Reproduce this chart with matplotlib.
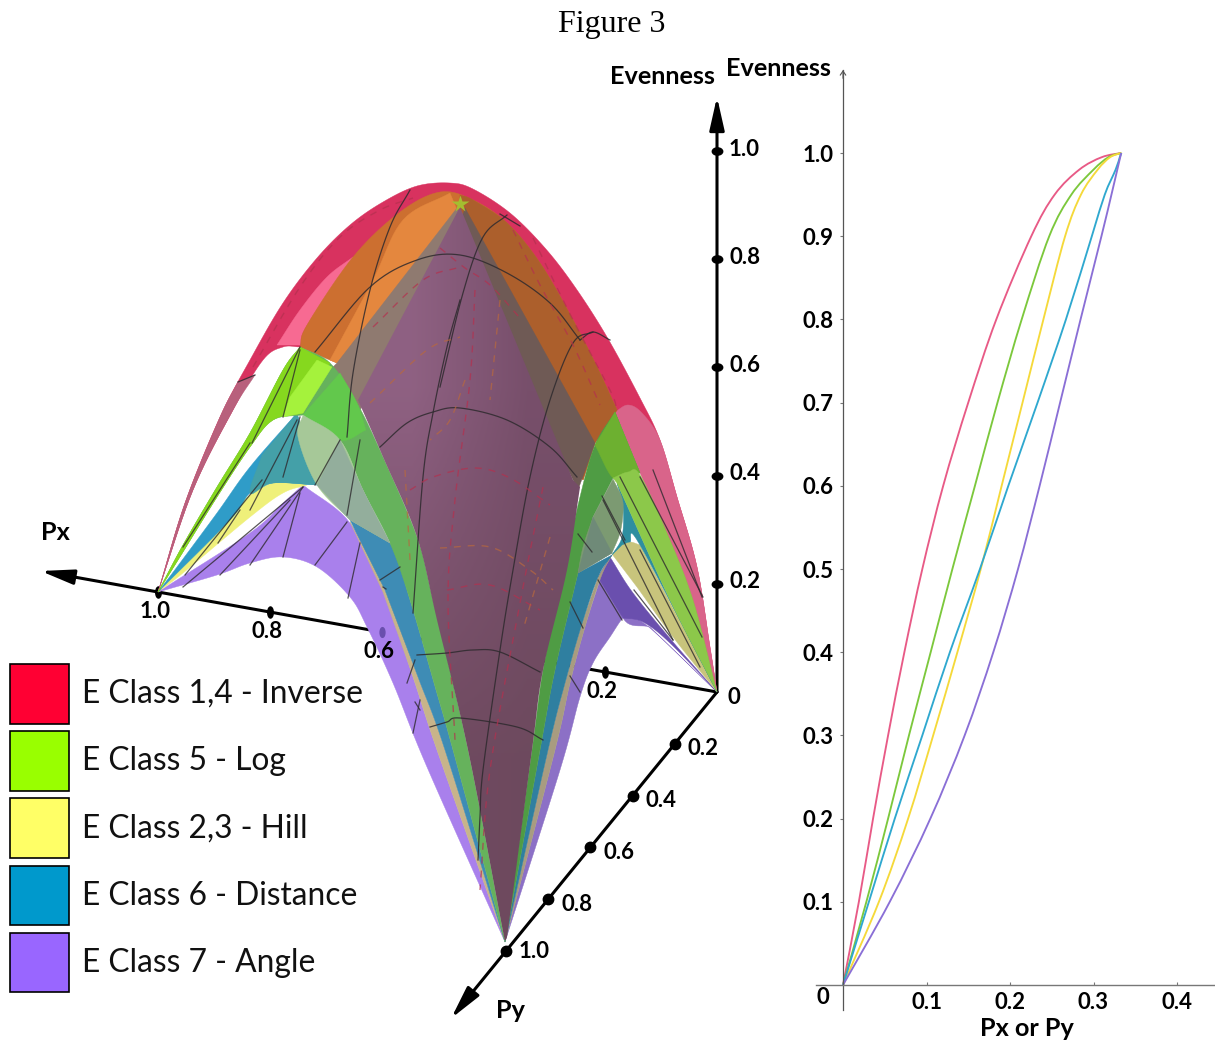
import numpy as np
import matplotlib
matplotlib.use("Agg")
import matplotlib.pyplot as plt
from matplotlib.patches import Polygon, Rectangle, PathPatch
from matplotlib.path import Path
from matplotlib.transforms import Affine2D

W, H = 1215, 1043
# ---------- right panel data: (Px or Py) position read at each evenness level
E_LEVELS = [0, .1, .2, .3, .4, .5, .6, .7, .8, .9, .95, .98, .995, 1.0]
P_INVERSE = [0, .019, .036, .054, .0735, .095, .120, .150, .1836, .2255, .2535, .283, .310, .3333]
P_LOG = [0, .028, .054, .079, .105, .131, .158, .185, .214, .247, .2735, .300, .318, .3333]
P_HILL = [0, .043, .078, .108, .137, .165, .190, .215, .240, .266, .285, .305, .320, .3333]
P_DIST = [0, .031, .062, .095, .128, .164, .198, .233, .267, .298, .3135, .3265, .3315, .3333]
P_ANGLE = [0, .056, .1046, .1457, .180, .2096, .2355, .260, .2845, .3095, .3215, .3285, .332, .3333]
CURVE_COLORS = ['#E85A86', '#7CC83C', '#F5D93A', '#2FA8CF', '#8A6FD6']
Y_TICKS = [.1, .2, .3, .4, .5, .6, .7, .8, .9, 1.0]
X_TICKS = [.1, .2, .3, .4]

# ---------- legend
LEGEND_LABELS = ['E Class 1,4 - Inverse', 'E Class 5 - Log', 'E Class 2,3 - Hill',
                 'E Class 6 - Distance', 'E Class 7 - Angle']
LEGEND_COLORS = ['#FF0033', '#99FF00', '#FFFF66', '#0099CC', '#9966FF']

# ---------- 3-D axis scale (screen position of the unit vectors)
ORIGIN = (717, 692)
PX_UNIT = (-559, -100)
PY_UNIT = (-211, 259)
E_UNIT = (0, -541)
PX_TICKS = [1.0, .8, .6, .2]
PY_TICKS = [.2, .4, .6, .8, 1.0]
E_TICKS = [.2, .4, .6, .8, 1.0]

# ---------- surface regions; None after a point makes it a sharp corner
C = (158, 592)   # Px corner
O = (717, 692)   # origin
B = (505, 942)   # Py corner
_ = None

OUT_L = [C, (185, 503), (220, 417), (250, 360), (283, 303), (317, 258), (350, 225), (383, 202), (417, 186), (450, 183)]
OUT_R = [(473, 189), (510, 213), (545, 248), (575, 287), (607, 337), (640, 398), (660, 440), (677, 497), (697, 567), (710, 647), O]
ARCH = OUT_L + OUT_R + [_, (643, 470), _, (615, 413), _, (460, 300), _, (300, 347), _, (283, 347), (263, 360), (233, 410),
                        (193, 490), C]
ROSE_L = [C, (185, 503), (220, 417), (238, 382), _, (255, 375), _, (233, 410), (193, 490), C]
PINK_L = [(277, 345), _, (300, 345), _, (307, 325), (353, 257), _, (327, 277), (300, 310), (277, 345)]
ORANGE = [(300, 347), _, (307, 325), (353, 257), (400, 212), (440, 192), (473, 200), (507, 223),
          (540, 263), (573, 320), (597, 367), (617, 410), _, (595, 443), _, (583, 480), _,
          (460, 300), _, (337, 363), _, (318, 355), (300, 347)]
ORANGE_LIGHT = [(450, 193), (403, 220), (373, 280), (330, 360), _, (337, 363), _, (457, 210), _, (450, 193)]
ORANGE_RIGHT = [(460, 195), _, (473, 200), (507, 223), (540, 263), (573, 320), (597, 367), (617, 410), _,
                (595, 443), _, (583, 480), _, (460, 215), _, (460, 195)]
GRAY_L = [(457, 208), _, (337, 363), _, (325, 375), _, (350, 420), _, (360, 410), _, (470, 240), _, (457, 208)]
GRAY_R = [(465, 208), _, (595, 443), _, (578, 490), _, (455, 240), _, (465, 208)]
PLUM = [(460, 207), _, (358, 400), _, (383, 457), (417, 537), (437, 620), (468, 750), B, _,
        (507, 937), _, (532, 750), (543, 670), (567, 570), (580, 487), _, (573, 480), _, (460, 207)]

GREEN_L = [C, (183, 545), (217, 487), (250, 433), (283, 370), (300, 347), _, (330, 363), (357, 403), (383, 457),
           (417, 537), (433, 600), (468, 750), B, _, (453, 750), (436, 690), (410, 600), (390, 543), (363, 490),
           (340, 440), (303, 415), _, (273, 420), (250, 447), (217, 497), (178, 560), C]
GREEN_L_BRIGHT = [C, (183, 545), (217, 487), (250, 433), (283, 370), (300, 347), _, (330, 363), _, (303, 413), _,
                  (273, 420), (250, 447), (217, 497), (178, 560), C]
GREEN_L_LENS = [(317, 360), _, (332, 367), _, (303, 413), _, (283, 417), _, (290, 397), _, (317, 360)]
GREEN_L_MID = [(340, 373), _, (357, 403), (366, 430), _, (340, 440), (303, 415), _, (340, 373)]
BLUE_L_WEDGE = [C, _, (177, 567), (217, 513), (250, 467), (297, 413), _, (317, 485), _, (273, 483), (250, 493), (230, 520), C]
TEAL_L = [(297, 413), _, (262, 455), _, (250, 493), (273, 483), (317, 485), _, (297, 413)]
LENS_L = [(303, 415), (340, 440), (363, 490), (390, 543), _, (350, 520), _, (317, 485), (298, 437), (303, 415)]
LENS_L_DARK = [(340, 440), (363, 490), (390, 543), _, (350, 520), _, (317, 485), _, (340, 440)]
YELLOW_L = [C, _, (217, 530), (250, 495), (283, 480), (307, 485), _, (283, 493), (250, 517), (183, 573), C]
PURPLE_L = [C, _, (250, 533), (283, 503), (303, 485), _, (350, 523), (383, 590), (413, 677), (437, 750), B, _,
            (427, 767), (393, 683), (367, 627), (350, 597), (317, 567), (283, 557), (250, 563), (217, 575), C]
BLUE_L = [(350, 520), _, (390, 543), (410, 600), (436, 690), (453, 750), B, _,
          (445, 750), (418, 677), (385, 590), _, (350, 520)]
TAN_L = [(350, 522), _, (385, 590), (418, 677), (445, 750), B, _, (437, 750), (413, 677), (383, 592), _, (350, 522)]

ROSE_R = [(615, 412), (628, 405), (642, 413), (660, 440), (677, 497), (697, 567), (710, 647), O, _,
          (693, 600), (667, 533), (640, 473), (615, 412)]
GREEN_R = [(615, 412), _, (595, 445), (580, 497), (560, 587), (543, 670), (532, 750), B, _,
           (540, 750), (555, 670), (578, 573), _, (593, 517), _, (613, 478), _, (640, 473), _, (615, 412)]
GREEN_R_TOP = [(615, 412), _, (595, 445), _, (613, 478), (628, 472), (640, 473), _, (615, 412)]
WEDGE_R = [(613, 478), (628, 472), (640, 475), (667, 533), (693, 600), O, _, (670, 600), (617, 483), _, (613, 478)]
LENS_R = [(613, 479), (622, 498), (623, 513), (620, 533), (612, 553), _, (578, 573), _, (583, 547), (593, 517), _, (613, 479)]
LENS_R_DARK = [(593, 517), _, (612, 553), _, (578, 573), _, (593, 517)]
TEAL_R = [(617, 483), _, (670, 600), O, _, (640, 545), (630, 542), (622, 545), _, (612, 555), _, (622, 537), (623, 507), (617, 483)]
BLUE_R = [(578, 573), _, (612, 555), _, (598, 577), (581, 627), (565, 683), (548, 750), B, _,
          (540, 750), (555, 670), (578, 573)]
TAN_R = [(612, 555), _, (601, 577), (585, 627), (570, 683), (555, 750), B, _, (548, 750), (565, 683), (581, 627), (598, 577), _, (612, 555)]
OLIVE_R = [(612, 554), (622, 545), (630, 542), (640, 545), _, O, _, (673, 637), (637, 587), _, (612, 554)]
DARK_R = [(610, 557), _, (633, 593), (673, 642), O, _, (670, 643), (643, 622), (623, 618), _, (598, 577), _, (610, 557)]
PURPLE_R = [(610, 557), _, (623, 618), (650, 627), _, O, _, (650, 628), (630, 618), (623, 618), (610, 637),
            (593, 663), (580, 697), (560, 770), B, _, (555, 750), (570, 683), (585, 627), (601, 577), _, (610, 557)]

REGIONS = [
    (ARCH, '#D8325F'), (ROSE_L, '#B8607C'), (PINK_L, '#F76A92'), (ROSE_R, '#D9648A'),
    (ORANGE, '#CC6F30'), (ORANGE_LIGHT, '#E4873E'), (ORANGE_RIGHT, '#AC5F2C'),
    (GRAY_L, '#8F7A70'), (GRAY_R, '#6F5A55'),
    (PURPLE_L, '#A980EC'), (TAN_L, '#C8B48A'), (BLUE_L, '#3E8CB5'),
    (YELLOW_L, '#EFF07A'), (BLUE_L_WEDGE, '#2F9CC8'), (TEAL_L, '#44A0A8'),
    (PURPLE_R, '#8C70C6'), (DARK_R, '#6A4FAE'), (TAN_R, '#A89C80'), (BLUE_R, '#2F7FA0'),
    (GREEN_L, '#66B25C'), (GREEN_L_BRIGHT, '#86D81E'), (GREEN_L_LENS, '#A5F23C'), (GREEN_L_MID, '#62C84C'),
    (LENS_L, '#A6C898'), (LENS_L_DARK, '#93AE9C'),
    (GREEN_R, '#4F9C44'), (GREEN_R_TOP, '#6DB030'), (OLIVE_R, '#C8C47C'), (TEAL_R, '#2E8EA0'),
    (WEDGE_R, '#8CC84A'), (LENS_R, '#7C9A72'), (LENS_R_DARK, '#6F8A78'),
]

# ---------- surface grid lines
DARK_ARCS = [
    [(315, 352), (370, 287), (417, 260), (460, 255), (507, 273), (550, 303), (580, 340)],
    [(580, 340), (593, 332), (610, 340)],
    [(380, 447), (407, 423), (433, 412), (460, 408), (507, 420), (550, 447), (577, 477)],
    [(417, 655), (447, 653), (473, 650), (500, 652), (540, 672)],
    [(430, 727), (447, 722), (460, 718), (517, 727), (543, 740)],
    [(410, 190), (390, 227), (370, 290), (353, 373), (347, 437)],
    [(460, 300), (447, 347), (433, 413), (423, 477), (413, 613)],
    [(507, 215), (483, 237), (463, 293), (440, 387)],
    [(593, 332), (573, 343), (550, 400), (530, 477), (513, 570), (500, 650), (483, 770), (480, 817), (478, 860)],
    [(500, 214), (520, 226)],
    [(238, 382), (255, 375)],
]
RED_ARCS = [
    [(253, 367), (300, 287), (340, 237), (380, 210), (413, 198)],
    [(533, 238), (573, 320), (610, 390), (617, 410)],
    [(543, 487), (520, 603), (490, 770), (480, 890)],
    [(513, 230), (540, 285), (573, 345), (600, 405)],
    [(410, 490), (433, 477), (475, 468), (510, 478), (550, 505)],
    [(440, 248), (465, 268), (490, 285), (520, 318)],
    [(447, 590), (490, 585), (540, 610)],
    [(373, 327), (423, 280), (460, 267)],
    [(475, 290), (470, 380), (455, 500), (448, 600), (455, 740)],
]
ORANGE_ARCS = [
    [(370, 403), (427, 350), (460, 337)],
    [(440, 548), (490, 547), (530, 570), (553, 590)],
    [(550, 537), (523, 630)],
    [(405, 470), (410, 560)],
    [(500, 300), (490, 400)],
    [(465, 380), (450, 420), (430, 440)],
]
THIN_LINES = [
    [(300, 347), (252, 443)], [(300, 350), (283, 417)], [(300, 417), (283, 477)],
    [(297, 420), (250, 510)], [(340, 440), (315, 485)], [(240, 510), (218, 543)],
    [(262, 480), (185, 575)], [(303, 487), (250, 565)], [(300, 493), (283, 557)],
    [(347, 522), (315, 565)], [(360, 543), (348, 598)], [(290, 500), (220, 575)],
    [(303, 487), (183, 587)], [(400, 567), (380, 580)], [(383, 587), (386, 589)],
    [(360, 440), (347, 515)], [(250, 443), (183, 547)],
    [(603, 500), (673, 640)], [(620, 477), (702, 637)], [(640, 477), (703, 597)],
    [(640, 550), (700, 667)], [(653, 470), (702, 597)], [(598, 580), (622, 620)],
    [(570, 602), (583, 628)], [(570, 676), (580, 692)], [(578, 534), (592, 552)],
    [(634, 590), (673, 640)], [(602, 496), (625, 540)],
    [(415, 702), (420, 710)], [(407, 683), (415, 660)], [(413, 733), (420, 700)],
]


def smooth(pts, n=10):
    pts = np.asarray(pts, float)
    if len(pts) < 3:
        return pts
    p = np.vstack([2 * pts[0] - pts[1], pts, 2 * pts[-1] - pts[-2]])
    out = []
    for i in range(1, len(p) - 2):
        for t in np.linspace(0, 1, n, endpoint=False):
            out.append(0.5 * ((2 * p[i]) + (p[i + 1] - p[i - 1]) * t +
                              (2 * p[i - 1] - 5 * p[i] + 4 * p[i + 1] - p[i + 2]) * t ** 2 +
                              (3 * p[i] - p[i - 1] - 3 * p[i + 1] + p[i + 2]) * t ** 3))
    out.append(pts[-1])
    return np.array(out)


def outline(region):
    segs, cur = [], []
    for q in region:
        if q is None:
            segs.append(cur)
            cur = [cur[-1]]
        else:
            cur.append(q)
    segs.append(cur)
    return np.vstack([smooth(s) for s in segs if len(s) > 1])


def project(px=0.0, py=0.0, e=0.0):
    return (ORIGIN[0] + px * PX_UNIT[0] + py * PY_UNIT[0] + e * E_UNIT[0],
            ORIGIN[1] + px * PX_UNIT[1] + py * PY_UNIT[1] + e * E_UNIT[1])


def spline_path(xs, ys):
    """Smooth Bezier path through the read points (the points themselves stay as read)."""
    p = np.column_stack([xs, ys])
    verts, codes = [p[0]], [Path.MOVETO]
    for i in range(len(p) - 1):
        a = p[max(i - 1, 0)]
        b = p[i]
        c = p[i + 1]
        d = p[min(i + 2, len(p) - 1)]
        verts += [b + (c - a) / 6, c - (d - b) / 6, c]
        codes += [Path.CURVE4] * 3
    return Path(verts, codes)


plt.rcParams['font.family'] = ['Lato', 'DejaVu Sans']
fig = plt.figure(figsize=(W / 100, H / 100), dpi=100)
ax = fig.add_axes([0, 0, 1, 1])
ax.axis('off')

TALL = Path.unit_circle().transformed(Affine2D().scale(0.5, 1))
WIDE = Path.unit_circle().transformed(Affine2D().scale(1, 0.7))

# 3-D axes, behind the surfaces
for vec in (dict(px=1.21), dict(py=1.26), dict(e=1.10)):
    ax.annotate('', xy=project(**vec), xytext=ORIGIN, zorder=1,
                arrowprops=dict(arrowstyle='-|>,head_length=2.0,head_width=0.45', color='black', lw=2.2,
                                shrinkA=0, shrinkB=0, mutation_scale=10))
xs, ys = zip(*[project(px=v) for v in PX_TICKS])
ax.plot(xs, ys, ls='', marker=TALL, ms=8, color='black', zorder=1)

# surfaces, painted back to front
for region, color in REGIONS:
    ax.add_patch(Polygon(outline(region), closed=True, fc=color, ec=color, lw=0.3, zorder=2))

plum_patch = Polygon(outline(PLUM), closed=True, fc='none', ec='none', zorder=3, transform=ax.transData)
ax.add_patch(plum_patch)
grad = np.array([[[0.56, 0.38, 0.51], [0.47, 0.31, 0.42]],
                 [[0.44, 0.29, 0.38], [0.43, 0.29, 0.37]]])
im = ax.imshow(grad, extent=(355, 585, 940, 205), interpolation='bilinear', aspect='auto', zorder=3)
im.set_clip_path(plum_patch)

for arc in DARK_ARCS:
    c = smooth(arc)
    ax.plot(c[:, 0], c[:, 1], color='#2E2A2E', lw=0.9, alpha=0.85, zorder=5)
for arc in RED_ARCS:
    c = smooth(arc)
    ax.plot(c[:, 0], c[:, 1], color='#B4304E', lw=1.0, alpha=0.7, dashes=(5, 5), zorder=5)
for arc in ORANGE_ARCS:
    c = smooth(arc)
    ax.plot(c[:, 0], c[:, 1], color='#B8683E', lw=1.0, alpha=0.7, dashes=(5, 5), zorder=5)
for seg in THIN_LINES:
    c = np.array(seg)
    ax.plot(c[:, 0], c[:, 1], color='#2E2A2E', lw=0.9, alpha=0.8, zorder=5)
sx, sy = project(px=1 / 3, py=1 / 3, e=1.0)
ax.plot([sx], [sy], marker='*', ms=13, color='#A4BE30', mec='none', zorder=6)
px6 = project(px=.6)
ax.plot([px6[0]], [px6[1]], marker=TALL, ms=7, color='#6A4FAE', zorder=6)

# ticks on the other axes
xs, ys = zip(*[project(py=v) for v in PY_TICKS])
ax.plot(xs, ys, ls='', marker='o', ms=7.5, color='black', zorder=7)
xs, ys = zip(*[project(e=v) for v in E_TICKS])
ax.plot(xs, ys, ls='', marker=WIDE, ms=7.5, color='black', zorder=7)

TS = 16
LS = 18.2
for v in PX_TICKS:
    x, y = project(px=v)
    ax.text(x - 3, y + 20, f'{v:.1f}', fontsize=TS, fontweight='bold', ha='center', va='center', zorder=8)
for v in PY_TICKS:
    x, y = project(py=v)
    ax.text(x + 13, y + 5 if v < 1 else y, f'{v:.1f}', fontsize=TS, fontweight='bold', ha='left', va='center', zorder=8)
for v in E_TICKS:
    x, y = project(e=v)
    ax.text(x + 12, y - 2, f'{v:.1f}', fontsize=TS, fontweight='bold', ha='left', va='center', zorder=8)
ax.text(734, 698, '0', fontsize=TS, fontweight='bold', ha='center', va='center', zorder=8)
ax.text(662, 77, 'Evenness', fontsize=LS, fontweight='bold', ha='center', va='center', zorder=8)
ax.text(55, 532, 'Px', fontsize=LS, fontweight='bold', ha='center', va='center', zorder=8)
ax.text(510, 1011, 'Py', fontsize=LS, fontweight='bold', ha='center', va='center', zorder=8)
ax.text(611.5, 24.5, 'Figure 3', family='Liberation Serif', fontsize=23, ha='center', va='center', zorder=8)
ax.text(778, 68, 'Evenness', fontsize=LS, fontweight='bold', ha='center', va='center', zorder=8)
ax.text(823, 997, '0', fontsize=TS, fontweight='bold', ha='center', va='center', zorder=8)
ax.text(1027, 1029, 'Px or Py', fontsize=LS, fontweight='bold', ha='center', va='center', zorder=8)

# legend
for i, (lab, col) in enumerate(zip(LEGEND_LABELS, LEGEND_COLORS)):
    top = 664 + i * 67.2
    ax.add_patch(Rectangle((10, top), 59, 59.5, fc=col, ec='black', lw=1.2, zorder=9))
    ax.text(82, top + 30, lab, fontsize=22.9, ha='left', va='center', color='#111111', zorder=9)

ax.set_xlim(0, W)
ax.set_ylim(H, 0)

# right panel
a2 = fig.add_axes([816 / W, 1 - 1010 / H, (W - 816) / W, (1010 - 70) / H], facecolor='none')
a2.set_xlim((816 - 843) / 835, (W - 843) / 835)
a2.set_ylim((985 - 1010) / 832, (985 - 70) / 832)
for vals, col in zip([P_INVERSE, P_LOG, P_HILL, P_DIST, P_ANGLE], CURVE_COLORS):
    a2.add_patch(PathPatch(spline_path(vals, E_LEVELS), fc='none', ec=col, lw=1.35))
for s in ('top', 'right'):
    a2.spines[s].set_visible(False)
a2.spines['left'].set_position(('data', 0))
a2.spines['bottom'].set_position(('data', 0))
a2.spines['left'].set_color('#555555')
a2.spines['bottom'].set_color('#777777')
a2.spines['left'].set_linewidth(0.9)
a2.spines['bottom'].set_linewidth(1.0)
a2.set_xticks(X_TICKS, [f'{v:.1f}' for v in X_TICKS], fontsize=TS, fontweight='bold')
a2.set_yticks(Y_TICKS, [f'{v:.1f}' for v in Y_TICKS], fontsize=TS, fontweight='bold')
a2.tick_params(axis='x', direction='in', length=2, color='#777777', pad=5)
a2.tick_params(axis='y', direction='out', length=2, color='#777777', pad=5)
a2.annotate('', xy=(0, a2.get_ylim()[1]), xytext=(0, a2.get_ylim()[1] - .01),
            arrowprops=dict(arrowstyle='->,head_length=0.3,head_width=0.2', color='#555555', lw=0.8,
                            shrinkA=0, shrinkB=0, mutation_scale=10), annotation_clip=False)

fig.savefig('out.png', dpi=100)
